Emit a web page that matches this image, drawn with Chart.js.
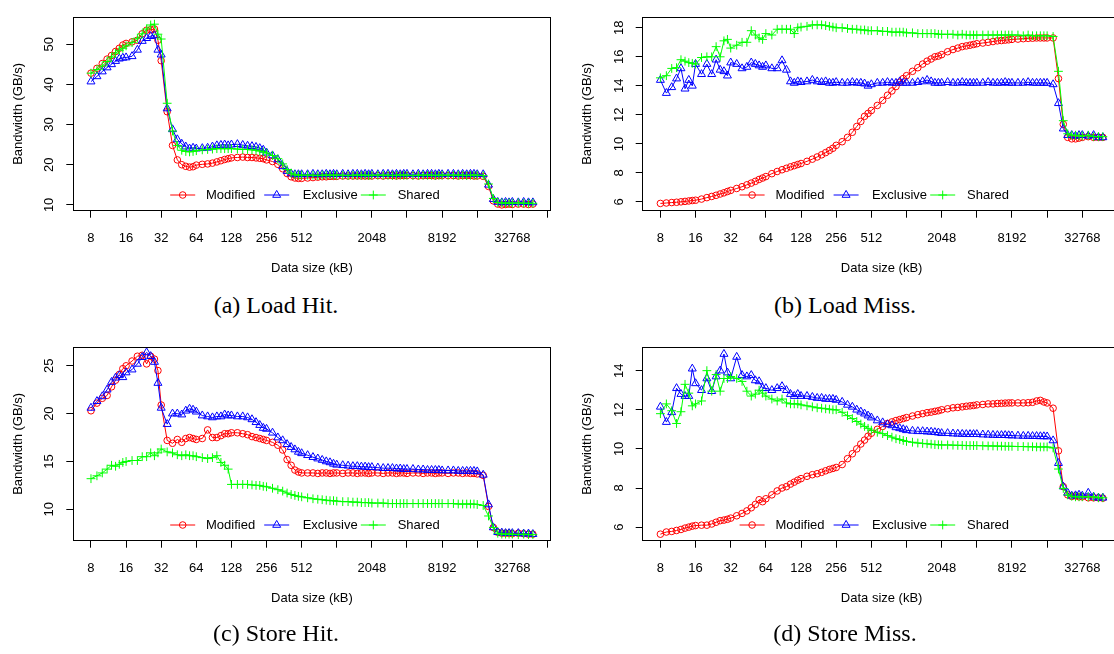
<!DOCTYPE html>
<html><head><meta charset="utf-8">
<script src="https://cdn.jsdelivr.net/npm/chart.js@4.4.1/dist/chart.umd.min.js"></script>
<style>
html,body{margin:0;padding:0;background:#fff;}
body{width:1114px;height:654px;overflow:hidden;position:relative;}
canvas{position:absolute;}
.cap{position:absolute;font-family:"Liberation Serif","Times New Roman",serif;font-size:24px;color:#000;text-align:center;width:560px;line-height:28px;white-space:nowrap;}
</style></head><body>
<canvas id="cA" width="560" height="290" style="left:0px;top:0px"></canvas>
<canvas id="cB" width="561" height="290" style="left:569px;top:0px"></canvas>
<canvas id="cC" width="560" height="290" style="left:0px;top:330px"></canvas>
<canvas id="cD" width="561" height="290" style="left:569px;top:330px"></canvas>
<div class="cap" style="left:-4px;top:291px">(a) Load Hit.</div>
<div class="cap" style="left:565px;top:291px">(b) Load Miss.</div>
<div class="cap" style="left:-4px;top:619px">(c) Store Hit.</div>
<div class="cap" style="left:565px;top:619px">(d) Store Miss.</div>
<script>
// ---------- data ----------
const sizes = [8,9,10,11,12,13,14,15,
16,18,20,22,24,26,28,30,
32,36,40,44,48,52,56,60,
64,72,80,88,96,104,112,120,
128,144,160,176,192,208,224,240,
256,288,320,352,384,416,448,480,
512,576,640,704,768,832,896,960,
1024,1152,1280,1408,1536,1664,1792,1920,
2048,2304,2560,2816,3072,3328,3584,3840,
4096,4608,5120,5632,6144,6656,7168,7680,
8192,9216,10240,11264,12288,13312,14336,15360,
16384,18432,20480,22528,24576,26624,28672,30720,
32768,36864,40960,45056,49152];

const xTicks = [8,16,32,64,128,256,512,1024,2048,4096,8192,16384,32768,65536];
const xTickLabels = ['8','16','32','64','128','256','512','','2048','','8192','','32768',''];
const seriesNames = ['Modified','Exclusive','Shared'];

const loadHitModified = [42.8,44.0,45.2,46.3,47.2,48.2,49.0,49.8,
50.2,50.6,51.0,52.6,53.5,53.6,53.8,51.0,
45.9,33.2,24.8,21.2,20.0,19.6,19.4,19.5,
19.9,20.1,20.2,20.4,20.7,21.0,21.3,21.5,
21.7,21.8,21.9,21.8,21.8,21.7,21.6,21.5,
21.2,20.8,20.1,19.0,17.8,17.0,16.7,16.6,
16.6,16.7,16.8,16.9,17.0,17.0,17.1,17.1,
17.1,17.2,17.2,17.2,17.2,17.2,17.2,17.2,
17.2,17.3,17.2,17.3,17.3,17.2,17.3,17.3,
17.3,17.3,17.2,17.3,17.3,17.3,17.2,17.3,
17.3,17.3,17.3,17.2,17.3,17.3,17.3,17.2,
17.2,17.1,14.6,11.0,10.2,10.0,10.1,10.2,
10.1,10.2,10.2,10.1,10.2];
const loadHitExclusive = [40.7,42.0,43.2,44.2,45.0,45.8,46.4,46.6,
46.7,47.0,48.6,50.8,51.5,52.0,52.2,48.6,
47.4,34.0,28.8,26.3,25.2,24.5,24.0,24.2,
24.0,24.1,24.2,24.5,24.8,24.9,25.0,24.8,
25.0,25.1,24.9,24.7,24.6,24.4,24.1,23.7,
23.0,22.3,21.3,19.6,18.4,17.8,17.6,17.6,
17.6,17.6,17.7,17.6,17.6,17.7,17.6,17.7,
17.6,17.7,17.6,17.7,17.7,17.6,17.7,17.6,
17.7,17.6,17.7,17.7,17.6,17.7,17.6,17.7,
17.7,17.6,17.7,17.6,17.7,17.7,17.6,17.7,
17.6,17.7,17.7,17.6,17.7,17.6,17.7,17.7,
17.6,17.6,15.0,11.4,10.7,10.6,10.7,10.6,
10.7,10.6,10.7,10.6,10.6];
const loadHitShared = [42.8,43.7,44.6,45.7,46.8,47.8,48.5,49.0,
49.6,50.4,51.5,52.6,53.8,54.8,55.0,52.5,
51.3,35.3,28.4,24.8,23.6,23.3,23.2,23.3,
23.5,23.7,23.8,23.9,24.0,24.0,24.0,24.0,
24.0,23.9,23.8,23.8,23.7,23.6,23.4,23.2,
22.9,22.3,21.5,20.2,18.8,17.9,17.5,17.4,
17.4,17.4,17.4,17.3,17.4,17.4,17.4,17.4,
17.4,17.4,17.3,17.4,17.4,17.4,17.4,17.3,
17.4,17.4,17.4,17.4,17.3,17.4,17.4,17.4,
17.4,17.3,17.4,17.4,17.4,17.4,17.3,17.4,
17.4,17.4,17.4,17.4,17.4,17.3,17.4,17.4,
17.4,17.3,15.2,11.6,10.6,10.5,10.4,10.5,
10.4,10.5,10.4,10.4,10.4];

const loadMissModified = [5.90,5.93,5.96,5.98,6.01,6.04,6.07,6.10,
6.12,6.20,6.30,6.38,6.46,6.55,6.63,6.72,
6.80,6.93,7.05,7.18,7.30,7.42,7.55,7.65,
7.75,7.95,8.10,8.22,8.32,8.42,8.50,8.58,
8.65,8.80,8.95,9.10,9.25,9.40,9.55,9.70,
9.90,10.15,10.45,10.80,11.20,11.55,11.90,12.10,
12.30,12.65,13.00,13.35,13.65,13.95,14.25,14.50,
14.70,15.00,15.25,15.50,15.70,15.85,16.00,16.05,
16.15,16.35,16.50,16.60,16.70,16.75,16.80,16.85,
16.90,16.95,17.00,17.05,17.10,17.12,17.15,17.17,
17.20,17.22,17.25,17.27,17.28,17.30,17.30,17.30,
17.30,17.30,14.50,11.35,10.45,10.35,10.35,10.40,
10.45,10.50,10.45,10.45,10.45];
const loadMissExclusive = [14.4,13.5,13.9,14.5,15.2,13.8,14.4,14.0,
15.5,14.8,15.5,14.8,15.8,15.1,15.0,14.7,
15.6,15.5,15.2,15.3,15.6,15.5,15.4,15.3,
15.4,15.2,15.2,15.75,15.1,14.3,14.2,14.3,
14.25,14.3,14.4,14.3,14.25,14.3,14.2,14.2,
14.25,14.2,14.2,14.25,14.2,14.2,14.15,14.0,
14.1,14.2,14.2,14.25,14.2,14.2,14.3,14.2,
14.2,14.2,14.25,14.3,14.4,14.3,14.2,14.2,
14.2,14.25,14.2,14.2,14.25,14.2,14.2,14.2,
14.2,14.2,14.25,14.2,14.2,14.2,14.25,14.2,
14.2,14.2,14.2,14.25,14.2,14.2,14.2,14.2,
14.2,14.1,12.8,11.05,10.6,10.6,10.55,10.6,
10.6,10.55,10.6,10.45,10.45];
const loadMissShared = [14.55,14.7,15.2,15.25,15.8,15.7,15.6,15.55,
15.5,15.95,16.0,16.0,16.7,16.0,17.1,17.2,
16.6,16.8,17.0,17.0,17.8,17.5,17.3,17.2,
17.6,17.5,17.9,17.9,17.9,17.9,17.6,18.0,
18.05,18.1,18.2,18.2,18.2,18.15,18.1,18.05,
18.0,18.0,17.95,17.9,17.9,17.85,17.85,17.8,
17.8,17.8,17.75,17.75,17.7,17.7,17.7,17.7,
17.65,17.65,17.6,17.6,17.6,17.6,17.6,17.55,
17.55,17.55,17.55,17.5,17.55,17.5,17.5,17.5,
17.5,17.5,17.5,17.5,17.5,17.5,17.5,17.5,
17.5,17.5,17.45,17.5,17.45,17.45,17.45,17.45,
17.45,17.4,15.0,11.6,10.7,10.6,10.6,10.55,
10.55,10.6,10.5,10.5,10.5];

const storeHitModified = [20.3,21.1,21.6,21.9,22.8,23.5,24.1,24.7,
25.0,25.5,26.0,26.1,25.2,26.0,25.7,24.5,
20.9,17.2,16.9,17.3,17.0,17.4,17.5,17.4,
17.3,17.4,18.3,17.5,17.5,17.7,17.9,17.9,
18.0,18.0,17.9,17.8,17.6,17.5,17.4,17.3,
17.2,17.0,16.7,16.2,15.2,14.6,14.1,13.9,
13.8,13.8,13.8,13.75,13.8,13.8,13.75,13.8,
13.8,13.75,13.8,13.8,13.75,13.8,13.8,13.75,
13.8,13.8,13.75,13.8,13.8,13.75,13.8,13.8,
13.75,13.8,13.8,13.75,13.8,13.8,13.75,13.8,
13.8,13.75,13.8,13.8,13.75,13.8,13.75,13.75,
13.7,13.55,10.3,8.1,7.6,7.5,7.5,7.5,
7.45,7.5,7.45,7.4,7.4];
const storeHitExclusive = [20.6,21.3,21.8,22.5,23.3,23.75,24.0,23.8,
24.3,24.6,25.2,25.9,26.4,26.0,25.4,23.2,
20.6,18.9,20.0,20.0,19.9,20.3,20.5,20.4,
20.2,19.8,19.7,19.6,19.7,19.7,19.9,19.8,
19.8,19.7,19.7,19.6,19.4,19.1,18.8,18.5,
18.4,18.0,17.5,17.2,16.8,16.5,16.25,16.0,
15.85,15.65,15.45,15.3,15.15,15.0,14.9,14.75,
14.65,14.6,14.55,14.5,14.5,14.45,14.45,14.4,
14.4,14.35,14.3,14.3,14.3,14.25,14.25,14.2,
14.2,14.2,14.15,14.15,14.1,14.1,14.1,14.1,
14.05,14.05,14.05,14.0,14.0,14.0,14.0,14.0,
13.95,13.6,10.5,8.1,7.6,7.55,7.5,7.5,
7.5,7.5,7.45,7.45,7.4];
const storeHitShared = [13.2,13.5,13.8,14.2,14.6,14.5,14.7,14.9,
15.0,15.1,15.1,15.5,15.5,15.9,15.6,15.9,
16.3,16.0,15.9,15.7,15.6,15.7,15.6,15.6,
15.5,15.4,15.3,15.4,15.6,14.9,14.6,14.2,
12.6,12.6,12.6,12.6,12.55,12.5,12.5,12.4,
12.35,12.2,12.05,11.9,11.7,11.55,11.45,11.35,
11.3,11.2,11.1,11.05,11.0,10.95,10.9,10.9,
10.85,10.8,10.8,10.75,10.75,10.7,10.7,10.7,
10.65,10.65,10.65,10.6,10.6,10.6,10.6,10.6,
10.6,10.6,10.6,10.6,10.6,10.6,10.6,10.6,
10.6,10.6,10.6,10.55,10.55,10.55,10.55,10.55,
10.5,10.4,9.3,8.1,7.5,7.4,7.4,7.4,
7.4,7.35,7.4,7.35,7.35];

const storeMissModified = [5.64,5.75,5.78,5.83,5.88,5.95,6.00,6.05,
6.08,6.10,6.10,6.16,6.25,6.33,6.36,6.40,
6.46,6.58,6.70,6.83,6.99,7.16,7.40,7.30,
7.45,7.65,7.85,8.00,8.07,8.20,8.30,8.40,
8.48,8.60,8.68,8.73,8.80,8.88,8.95,9.00,
9.05,9.20,9.50,9.75,10.00,10.25,10.45,10.65,
10.80,11.00,11.15,11.30,11.38,11.45,11.50,11.55,
11.60,11.68,11.75,11.80,11.85,11.88,11.92,11.95,
12.00,12.05,12.10,12.12,12.15,12.18,12.20,12.22,
12.25,12.27,12.30,12.30,12.32,12.33,12.34,12.35,
12.35,12.35,12.35,12.36,12.38,12.45,12.48,12.40,
12.35,12.08,9.90,8.07,7.65,7.57,7.60,7.55,
7.55,7.50,7.50,7.50,7.48];
const storeMissExclusive = [12.15,11.37,11.87,13.1,12.8,12.7,12.7,14.1,
13.35,13.0,13.6,12.95,13.7,14.0,14.85,13.9,
13.6,14.7,13.77,13.7,13.77,13.5,13.45,13.1,
13.1,13.0,13.1,13.2,13.0,12.8,12.7,12.8,
12.7,12.7,12.65,12.6,12.6,12.55,12.55,12.55,
12.5,12.4,12.25,12.15,12.0,11.9,11.8,11.7,
11.6,11.45,11.35,11.25,11.2,11.1,11.05,11.0,
10.95,10.92,10.9,10.9,10.88,10.87,10.85,10.83,
10.8,10.8,10.78,10.77,10.76,10.75,10.75,10.75,
10.75,10.73,10.72,10.71,10.7,10.7,10.7,10.69,
10.68,10.67,10.66,10.66,10.65,10.65,10.64,10.64,
10.63,10.43,9.27,8.07,7.75,7.6,7.62,7.65,
7.6,7.75,7.55,7.5,7.5];
const storeMissShared = [11.8,12.3,11.95,11.3,11.9,13.3,12.85,12.2,
12.3,12.45,14.0,12.95,13.8,12.95,13.6,13.6,
13.7,13.6,13.45,12.95,12.7,12.8,13.0,12.85,
12.7,12.55,12.45,12.55,12.35,12.3,12.3,12.3,
12.25,12.2,12.15,12.1,12.08,12.05,12.03,12.0,
12.0,11.87,11.7,11.55,11.4,11.27,11.15,11.05,
10.96,10.85,10.78,10.68,10.6,10.52,10.48,10.43,
10.38,10.34,10.3,10.28,10.26,10.24,10.22,10.21,
10.2,10.2,10.19,10.18,10.18,10.17,10.17,10.17,
10.17,10.16,10.15,10.15,10.14,10.14,10.13,10.13,
10.13,10.12,10.12,10.11,10.11,10.1,10.1,10.1,
10.1,10.05,8.97,7.98,7.65,7.58,7.55,7.55,
7.55,7.55,7.55,7.5,7.5];

const loadHitYTicks = [10,20,30,40,50];
const loadMissYTicks = [6,8,10,12,14,16,18];
const storeHitYTicks = [10,15,20,25];
const storeMissYTicks = [6,8,10,12,14];

// ---------- rendering ----------
const FONT = '"Liberation Sans", Arial, Helvetica, sans-serif';
const COLORS = ['#FF0000', '#0000FF', '#00FF00'];
const STYLES = ['circle', 'triangle', 'cross'];
const RADII = [3.3, 4.6, 4.4];
const ORDERS = [2, 1, 0];

function drawMarker(ctx, style, x, y, r) {
  ctx.beginPath();
  if (style === 'circle') {
    ctx.arc(x, y, r, 0, Math.PI * 2);
  } else if (style === 'triangle') {
    const a = 2 * Math.PI / 3;
    ctx.moveTo(x, y - r);
    ctx.lineTo(x + r * Math.sin(a), y - r * Math.cos(a));
    ctx.lineTo(x + r * Math.sin(2 * a), y - r * Math.cos(2 * a));
    ctx.closePath();
  } else {
    ctx.moveTo(x, y - r); ctx.lineTo(x, y + r);
    ctx.moveTo(x - r, y); ctx.lineTo(x + r, y);
  }
  ctx.stroke();
}

const boxPlugin = {
  id: 'rBox',
  afterDraw(chart) {
    const {ctx, chartArea: a} = chart;
    const al = p => Math.round(p - 0.5) + 0.5;
    ctx.save();
    ctx.strokeStyle = '#000';
    ctx.lineWidth = 1;
    const l = al(a.left), t = al(a.top), r = al(a.right), b = al(a.bottom);
    ctx.strokeRect(l, t, r - l, b - t);
    ctx.restore();
  }
};

const legendPlugin = {
  id: 'rLegend',
  afterDraw(chart) {
    const {ctx, chartArea: a} = chart;
    const y = a.bottom - 15.7;
    const markerOff = [109.4, 203.4, 300.0];
    const textOff = [132.7, 229.4, 324.4];
    ctx.save();
    chart.data.datasets.forEach((ds, i) => {
      const mx = a.left + markerOff[i];
      ctx.strokeStyle = ds.borderColor;
      ctx.lineWidth = 1;
      ctx.beginPath();
      ctx.moveTo(mx - 12.5, y); ctx.lineTo(mx + 12.5, y);
      ctx.stroke();
      drawMarker(ctx, ds.pointStyle, mx, y, ds.pointRadius);
      ctx.fillStyle = '#000';
      ctx.font = '13px ' + FONT;
      ctx.textAlign = 'left';
      ctx.textBaseline = 'middle';
      ctx.fillText(ds.label, a.left + textOff[i], y);
    });
    ctx.restore();
  }
};

function makePanel(id, yAxisW, rightPad, yMin, yMax, yTicks, series) {
  const datasets = series.map((vals, i) => ({
    label: seriesNames[i],
    data: sizes.map((s, k) => ({x: s, y: vals[k]})),
    borderColor: COLORS[i],
    backgroundColor: 'rgba(0,0,0,0)',
    borderWidth: 1,
    pointStyle: STYLES[i],
    pointRadius: RADII[i],
    pointBorderWidth: 1,
    pointBorderColor: COLORS[i],
    pointBackgroundColor: 'rgba(0,0,0,0)',
    tension: 0,
    order: ORDERS[i]
  }));
  const tickFont = {family: FONT, size: 13};
  new Chart(document.getElementById(id), {
    type: 'line',
    data: {datasets},
    plugins: [boxPlugin, legendPlugin],
    options: {
      responsive: false,
      animation: false,
      devicePixelRatio: 1,
      events: [],
      layout: {padding: {top: 11, right: rightPad, left: 0, bottom: 0}},
      plugins: {legend: {display: false}, tooltip: {enabled: false}},
      scales: {
        x: {
          type: 'logarithmic',
          min: 5.6436,
          max: 69678,
          afterBuildTicks: s => { s.ticks = xTicks.map(v => ({value: v})); },
          afterFit: s => { s.height = 79.3; },
          ticks: {
            autoSkip: false, maxRotation: 0, minRotation: 0, padding: 12.5,
            color: '#000', font: tickFont,
            callback: (v) => { const k = xTicks.indexOf(v); return k >= 0 ? xTickLabels[k] : ''; }
          },
          grid: {display: true, drawOnChartArea: false, drawTicks: true, tickLength: 7, color: '#000', lineWidth: 1},
          border: {display: true, color: '#000', width: 1},
          title: {display: true, text: 'Data size (kB)', color: '#000', font: tickFont, padding: {top: 0, bottom: 14.2}}
        },
        y: {
          type: 'linear',
          min: yMin,
          max: yMax,
          afterBuildTicks: s => { s.ticks = yTicks.map(v => ({value: v})); },
          afterFit: s => { s.width = yAxisW; },
          ticks: {
            minRotation: 90, maxRotation: 90, crossAlign: 'center', padding: 9.3,
            color: '#000', font: tickFont
          },
          grid: {display: true, drawOnChartArea: false, drawTicks: true, tickLength: 7, color: '#000', lineWidth: 1},
          border: {display: true, color: '#000', width: 1},
          title: {display: true, text: 'Bandwidth (GB/s)', color: '#000', font: tickFont, padding: {top: 10.4, bottom: 0}}
        }
      }
    }
  });
}

makePanel('cA', 73.3, 7.3, 8.55, 56.76, loadHitYTicks, [loadHitModified, loadHitExclusive, loadHitShared]);
makePanel('cB', 73.7, 7.9, 5.399, 18.735, loadMissYTicks, [loadMissModified, loadMissExclusive, loadMissShared]);
makePanel('cC', 73.3, 7.3, 6.716, 26.956, storeHitYTicks, [storeHitModified, storeHitExclusive, storeHitShared]);
makePanel('cD', 73.7, 7.9, 5.306, 15.204, storeMissYTicks, [storeMissModified, storeMissExclusive, storeMissShared]);
</script>
</body></html>
